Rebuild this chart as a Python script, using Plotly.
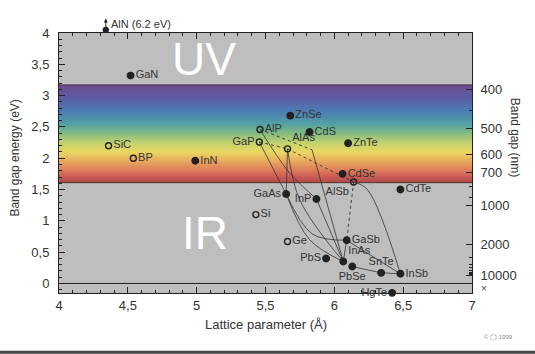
import numpy as np
import plotly.graph_objects as go

# ---------------- data ----------------
compounds = ["GaN", "SiC", "BP", "InN", "ZnSe", "AlP", "CdS", "GaP", "AlAs", "ZnTe",
             "CdSe", "AlSb", "GaAs", "InP", "Si", "CdTe", "Ge", "GaSb", "PbS", "InAs",
             "PbSe", "SnTe", "InSb", "HgTe"]
lattice_A = [4.52, 4.36, 4.54, 4.99, 5.68, 5.46, 5.82, 5.455, 5.66, 6.10,
             6.06, 6.14, 5.65, 5.87, 5.43, 6.48, 5.66, 6.09, 5.94, 6.065,
             6.13, 6.34, 6.48, 6.42]
gap_eV = [3.32, 2.20, 2.00, 1.96, 2.68, 2.46, 2.42, 2.26, 2.15, 2.24,
          1.75, 1.62, 1.43, 1.35, 1.10, 1.50, 0.67, 0.69, 0.40, 0.35,
          0.27, 0.17, 0.155, -0.15]
indirect = ["SiC", "BP", "AlP", "GaP", "AlAs", "AlSb", "Si", "Ge"]

aln_lattice = 4.34
aln_plot_gap = 4.05       # drawn just above the top edge, real value 6.2 eV
aln_arrow_tip = 4.23

# alloy connection lines: (start, end, optional intermediate point)
solid_links = [("GaP", "GaAs", None), ("AlAs", "GaAs", None), ("AlP", "InP", (5.67, 1.78)),
               ("GaAs", "InAs", (5.82, 0.70)), ("GaAs", "GaSb", (5.84, 0.79)),
               ("InP", "InAs", None), ("GaSb", "InAs", None), ("GaSb", "InSb", None),
               ("AlSb", "InSb", (6.24, 1.50)), ("AlAs", "InAs", (5.75, 1.33)),
               ("PbSe", "SnTe", None), ("SnTe", "InSb", None)]
bend_point = (5.838, 2.136)
dotted_links = [("GaP", "AlAs"), ("AlAs", "AlSb"), ("AlSb", "GaSb")]

x_ticks = [4, 4.5, 5, 5.5, 6, 6.5, 7]
x_ticklabels = ["4", "4,5", "5", "5,5", "6", "6,5", "7"]
y_ticks = [0, 0.5, 1, 1.5, 2, 2.5, 3, 3.5, 4]
y_ticklabels = ["0", "0,5", "1", "1,5", "2", "2,5", "3", "3,5", "4"]
nm_major = [400, 500, 600, 700, 1000, 2000, 10000]
nm_minor = [450, 800, 900, 3000, 4000, 5000, 6000, 7000, 8000, 9000]

visible_low, visible_high = 1.61, 3.17
spectrum_eV = [1.61, 1.70, 1.80, 1.95, 2.10, 2.25, 2.40, 2.55, 2.75, 2.95, 3.17]
spectrum_colors = ['#b04a4a', '#c95a54', '#dc7a5a', '#e8a85e', '#ead862', '#c2d16e',
                   '#82ba82', '#52a0a4', '#4c7db4', '#5a5ea6', '#6e4c8e']

label_pos = {"GaN": "middle right", "SiC": "middle right", "BP": "middle right",
             "InN": "middle right", "ZnSe": "middle right", "AlP": "middle right",
             "CdS": "middle right", "GaP": "middle left", "AlAs": "top right",
             "ZnTe": "middle right", "CdSe": "middle right", "AlSb": "bottom left",
             "GaAs": "middle left", "InP": "middle left", "Si": "middle right",
             "CdTe": "middle right", "Ge": "middle right", "GaSb": "middle right",
             "PbS": "middle left", "InAs": "top right", "PbSe": "bottom center",
             "SnTe": "top center", "InSb": "middle right", "HgTe": "middle left"}

# ---------------- figure ----------------
FONT = "Liberation Sans, Arial, sans-serif"
INK = "#222222"
TXT = "#333333"
pos = {c: (a, g) for c, a, g in zip(compounds, lattice_A, gap_eV)}
y_range = [-0.152, 4.0]


def to_paper(v):
    return (v - y_range[0]) / (y_range[1] - y_range[0])


fig = go.Figure()

# visible spectrum band
band_y = np.arange(visible_low, visible_high + 0.0001, 0.005)
lo, hi = spectrum_eV[0], spectrum_eV[-1]
cscale = [[(e - lo) / (hi - lo), c] for e, c in zip(spectrum_eV, spectrum_colors)]
fig.add_trace(go.Heatmap(x=[4, 7], y=band_y, z=[[e, e] for e in band_y],
                         colorscale=cscale, zmin=lo, zmax=hi, showscale=False,
                         hoverinfo="skip"))

# connection lines
for a, b, mid in solid_links:
    xs = [pos[a][0]] + ([mid[0]] if mid else []) + [pos[b][0]]
    ys = [pos[a][1]] + ([mid[1]] if mid else []) + [pos[b][1]]
    fig.add_trace(go.Scatter(x=xs, y=ys, mode="lines",
                             line=dict(color="#333333", width=0.8, shape="spline"),
                             hoverinfo="skip", showlegend=False))
fig.add_trace(go.Scatter(x=[bend_point[0], pos["InAs"][0]], y=[bend_point[1], pos["InAs"][1]],
                         mode="lines", line=dict(color="#333333", width=0.8),
                         hoverinfo="skip", showlegend=False))
for a, b in dotted_links + [("AlP", None)]:
    pa = pos[a]
    pb = pos[b] if b else bend_point
    fig.add_trace(go.Scatter(x=[pa[0], pb[0]], y=[pa[1], pb[1]], mode="lines",
                             line=dict(color="#333333", width=0.9, dash="dot"),
                             hoverinfo="skip", showlegend=False))

# markers
for is_open in (False, True):
    sel = [i for i, c in enumerate(compounds) if (c in indirect) == is_open]
    fig.add_trace(go.Scatter(
        x=[lattice_A[i] for i in sel], y=[gap_eV[i] for i in sel],
        text=[compounds[i] for i in sel],
        textposition=[label_pos[compounds[i]] for i in sel],
        mode="markers+text", cliponaxis=False,
        marker=dict(symbol="circle-open" if is_open else "circle", size=6 if is_open else 6.5,
                    color=INK, line=dict(color=INK, width=1.4)),
        textfont=dict(family=FONT, size=11, color=TXT),
        hoverinfo="skip", showlegend=False))

# dummy trace for right axis
fig.add_trace(go.Scatter(x=[4], y=[0], yaxis="y2", mode="markers", marker=dict(opacity=0),
                         showlegend=False, hoverinfo="skip"))

shapes = [
    dict(type="line", xref="x", yref="y", x0=4, x1=7, y0=0, y1=0, line=dict(color=INK, width=1)),
    dict(type="line", xref="x", yref="y", x0=4, x1=7, y0=visible_low, y1=visible_low,
         line=dict(color="#553333", width=1)),
    dict(type="line", xref="x", yref="y", x0=4, x1=7, y0=visible_high, y1=visible_high,
         line=dict(color="#44304f", width=1)),
    dict(type="line", xref="paper", yref="paper", x0=-0.2, x1=1.3, y0=-0.228, y1=-0.228,
         line=dict(color="#444444", width=3)),
    # AlN point (outside the axis range, so anchored in paper coordinates)
    dict(type="circle", xref="x", yref="paper", xsizemode="pixel", ysizemode="pixel",
         xanchor=aln_lattice, yanchor=to_paper(aln_plot_gap), x0=-3.2, x1=3.2, y0=-3.2, y1=3.2,
         fillcolor=INK, line=dict(color=INK, width=0)),
]

px_per_ev = 260 / (y_range[1] - y_range[0])
annotations = [
    dict(x=aln_lattice, y=to_paper(aln_arrow_tip), xref="x", yref="paper", text="",
         showarrow=True, arrowhead=2, arrowsize=0.8, arrowwidth=1, arrowcolor=INK,
         ax=0, ay=(aln_arrow_tip - aln_plot_gap) * px_per_ev),
    dict(x=aln_lattice, y=to_paper(aln_plot_gap), xref="x", yref="paper", text="AlN (6.2 eV)",
         showarrow=False, xanchor="left", yanchor="middle", xshift=3, yshift=6,
         font=dict(family=FONT, size=11, color=TXT)),
    dict(x=5.05, y=3.59, xref="x", yref="y", text="UV", showarrow=False,
         font=dict(family=FONT, size=46, color="white")),
    dict(x=5.06, y=0.80, xref="x", yref="y", text="IR", showarrow=False,
         font=dict(family=FONT, size=46, color="white")),
    dict(x=1.03, y=-0.075, xref="paper", yref="y", text="×", showarrow=False,
         xanchor="center", yanchor="middle",
         font=dict(family=FONT, size=10, color="#444444")),
    dict(x=0.5, y=-0.122, xref="paper", yref="paper", text="Lattice parameter (Å)",
         xanchor="center", yanchor="middle",
         showarrow=False, font=dict(family=FONT, size=13, color=TXT)),
    dict(x=-0.107, y=0.52, xref="paper", yref="paper", text="Band gap energy (eV)",
         xanchor="center", yanchor="middle",
         textangle=-90, showarrow=False, font=dict(family=FONT, size=12, color=TXT)),
    dict(x=1.104, y=0.597, xref="paper", yref="paper", text="Band gap (nm)",
         xanchor="center", yanchor="middle",
         textangle=90, showarrow=False, font=dict(family=FONT, size=12, color=TXT)),
    dict(x=1.105, y=-0.172, xref="paper", yref="paper", text="© ◯ 1999",
         xanchor="right", yanchor="middle",
         showarrow=False, font=dict(family=FONT, size=6, color="#888888")),
]

fig.update_layout(
    width=535, height=354, margin=dict(l=59, r=63, t=33, b=61),
    paper_bgcolor="white", plot_bgcolor="#bebebe", showlegend=False,
    font=dict(family=FONT, color=TXT),
    shapes=shapes, annotations=annotations,
    xaxis=dict(range=[4, 7], tickvals=x_ticks, ticktext=x_ticklabels, ticks="inside",
               ticklen=6, tickcolor=INK, showline=True, linecolor=INK, linewidth=1,
               mirror="ticks", showgrid=False, zeroline=False, ticklabelstandoff=0,
               tickfont=dict(size=13, color=TXT),
               minor=dict(ticks="inside", ticklen=3, tick0=4, dtick=0.1, tickcolor=INK)),
    yaxis=dict(range=y_range, tickvals=y_ticks, ticktext=y_ticklabels, ticks="inside",
               ticklen=6, tickcolor=INK, showline=True, linecolor=INK, linewidth=1,
               showgrid=False, zeroline=False, ticklabelstandoff=6,
               tickfont=dict(size=13, color=TXT),
               minor=dict(ticks="inside", ticklen=3, tick0=0, dtick=0.1, tickcolor=INK)),
    yaxis2=dict(range=y_range, overlaying="y", side="right",
                tickvals=[1240 / nm for nm in nm_major], ticktext=[str(nm) for nm in nm_major],
                ticks="inside", ticklen=6, tickcolor=INK, showline=True, linecolor=INK,
                linewidth=1, showgrid=False, zeroline=False, ticklabelstandoff=5,
                tickfont=dict(size=13, color=TXT),
                minor=dict(ticks="inside", ticklen=3, tickvals=[1240 / nm for nm in nm_minor],
                           tickcolor=INK)),
)

fig.write_html("out.html")
